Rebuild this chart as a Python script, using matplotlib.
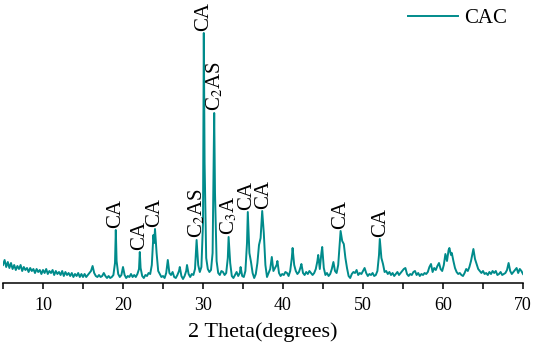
import numpy as np
import matplotlib
matplotlib.use("Agg")
import matplotlib.pyplot as plt
from matplotlib.ticker import MultipleLocator

plt.rcParams['font.family'] = ['Liberation Serif', 'DejaVu Serif']
plt.rcParams['mathtext.fontset'] = 'stix'

# XRD pattern (intensity in arbitrary units)
two_theta = [
    5.0, 5.2, 5.4, 5.6, 5.8, 6.0, 6.2, 6.4, 6.6, 6.8, 7.0, 7.2, 7.4, 7.6, 7.8,
    8.0, 8.2, 8.4, 8.6, 8.8, 9.0, 9.2, 9.4, 9.6, 9.8, 10.0, 10.2, 10.4, 10.6, 10.8,
    11.0, 11.2, 11.4, 11.6, 11.8, 12.0, 12.2, 12.4, 12.6, 12.8, 13.0, 13.2, 13.4, 13.6, 13.8,
    14.0, 14.2, 14.4, 14.6, 14.8, 15.0, 15.2, 15.4, 15.6, 15.8,
    16.0, 16.2, 16.4, 16.6, 16.8, 17.0, 17.2, 17.4, 17.6, 17.8, 18.0, 18.2, 18.4, 18.6, 18.8,
    19.0, 19.1, 19.2, 19.4, 19.6, 19.8, 20.0, 20.2, 20.4, 20.6, 20.8, 21.0, 21.2, 21.4, 21.6, 21.8,
    22.0, 22.1, 22.2, 22.4, 22.6, 22.8, 23.0, 23.2, 23.4, 23.6, 23.8, 23.9, 24.0, 24.2, 24.4, 24.6, 24.8,
    25.0, 25.2, 25.4, 25.6, 25.8, 26.0, 26.2, 26.4, 26.6, 26.8, 27.0, 27.1, 27.3, 27.5, 27.7, 27.9,
    28.0, 28.2, 28.4, 28.6, 28.8, 29.0, 29.2, 29.4, 29.6, 29.8, 30.0, 30.1, 30.2, 30.4, 30.6, 30.8,
    31.0, 31.2, 31.4, 31.5, 31.7, 31.9, 32.1, 32.3, 32.5, 32.7, 32.9, 33.1, 33.2, 33.4, 33.6, 33.8,
    34.0, 34.2, 34.4, 34.6, 34.7, 34.9, 35.1, 35.3, 35.5, 35.6, 35.8, 36.0, 36.2, 36.4, 36.6, 36.8,
    37.0, 37.2, 37.4, 37.6, 37.8, 38.0, 38.2, 38.4, 38.6, 38.8, 39.0, 39.2, 39.3, 39.5, 39.7, 39.9,
    40.1, 40.3, 40.5, 40.7, 40.9, 41.1, 41.2, 41.4, 41.6, 41.8, 42.0, 42.2, 42.3, 42.5, 42.7, 42.9,
    43.1, 43.3, 43.5, 43.7, 43.9, 44.1, 44.3, 44.4, 44.6, 44.8, 44.9, 45.1, 45.3, 45.5, 45.7, 45.9,
    46.1, 46.3, 46.5, 46.7, 46.9, 47.1, 47.2, 47.4, 47.6, 47.8, 48.0, 48.2, 48.4, 48.6, 48.8,
    49.0, 49.2, 49.4, 49.6, 49.8, 50.0, 50.2, 50.4, 50.6, 50.8, 51.0, 51.2, 51.4, 51.6, 51.8,
    52.0, 52.1, 52.3, 52.5, 52.7, 52.9, 53.1, 53.3, 53.5, 53.7, 53.9, 54.1, 54.3, 54.5, 54.7, 54.9,
    55.1, 55.3, 55.5, 55.7, 55.9, 56.1, 56.3, 56.5, 56.7, 56.9, 57.1, 57.3, 57.5, 57.7, 57.9,
    58.1, 58.3, 58.5, 58.7, 58.9, 59.1, 59.3, 59.5, 59.7, 59.9, 60.1, 60.3, 60.5, 60.7, 60.8,
    61.0, 61.1, 61.3, 61.5, 61.7, 61.9, 62.1, 62.3, 62.5, 62.7, 62.9, 63.1, 63.3, 63.5, 63.7, 63.8,
    64.0, 64.2, 64.4, 64.6, 64.8, 65.0, 65.2, 65.4, 65.6, 65.8, 66.0, 66.2, 66.4, 66.6, 66.8,
    67.0, 67.2, 67.4, 67.6, 67.8, 68.0, 68.2, 68.4, 68.6, 68.8, 69.0, 69.2, 69.4, 69.6, 69.8, 70.0,
]
intensity = [
    18, 23, 16, 21, 15, 20, 14, 18, 13, 17, 14, 18, 12, 16, 13,
    15, 11, 15, 12, 14, 10, 14, 11, 13, 9, 13, 10, 14, 9, 12,
    10, 13, 8, 12, 9, 11, 8, 12, 7, 11, 8, 10, 7, 10, 6,
    9, 7, 10, 6, 9, 6, 9, 6, 8, 10,
    12, 17, 10, 7, 6, 8, 6, 7, 10, 7, 5, 7, 5, 6, 8,
    20, 53, 22, 9, 6, 8, 16, 8, 5, 7, 6, 9, 6, 8, 6, 9,
    14, 31, 15, 7, 5, 8, 7, 10, 9, 18, 48, 40, 54, 30, 12, 9, 6,
    7, 5, 10, 23, 10, 8, 11, 6, 5, 8, 12, 16, 7, 4, 7, 12,
    18, 9, 6, 9, 8, 14, 43, 18, 11, 16, 60, 250, 120, 25, 14, 11,
    13, 30, 170, 90, 22, 10, 8, 12, 11, 8, 10, 25, 46, 20, 7, 5,
    8, 11, 7, 10, 16, 7, 6, 12, 40, 71, 30, 21, 10, 5, 9, 20,
    38, 45, 72, 50, 18, 6, 10, 14, 26, 12, 15, 18, 22, 10, 7, 9,
    8, 11, 10, 7, 12, 25, 35, 18, 12, 9, 11, 16, 19, 10, 8, 11,
    9, 12, 10, 8, 10, 14, 22, 28, 14, 30, 36, 15, 8, 10, 7, 9,
    14, 21, 12, 10, 18, 40, 52, 42, 39, 25, 15, 7, 5, 9, 11,
    10, 13, 8, 10, 9, 12, 15, 10, 7, 9, 8, 10, 7, 8, 12,
    28, 44, 25, 19, 11, 12, 9, 11, 8, 10, 7, 9, 11, 8, 10, 12,
    14, 15, 9, 7, 9, 8, 11, 12, 8, 10, 7, 9, 8, 10, 9,
    11, 16, 19, 11, 15, 13, 17, 20, 14, 12, 18, 29, 22, 33, 35,
    28, 30, 22, 15, 11, 9, 10, 8, 7, 10, 14, 12, 16, 22, 30, 34,
    24, 19, 14, 12, 10, 12, 9, 10, 8, 11, 9, 12, 10, 12, 8,
    9, 11, 8, 9, 10, 13, 20, 12, 9, 11, 13, 15, 10, 14, 12, 9,
]

# phase labels: position, peak height, text
label_x = [19.1, 22.1, 24.0, 29.2, 30.1, 31.5, 33.2, 35.4, 37.6, 47.2, 52.2]
label_y = [53, 31, 54, 43, 250, 170, 46, 71, 72, 52, 44]
label_txt = ['CA', 'CA', 'CA', r'C$_2$AS', 'CA', r'C$_2$AS', r'C$_3$A',
             'CA', 'CA', 'CA', 'CA']

fig = plt.figure(figsize=(5.33, 3.58), dpi=100)
ax = fig.add_axes([3 / 533, 75 / 358, 520 / 533, 283 / 358])

ax.plot(two_theta, intensity, color='#008B8B', lw=1.4, label='CAC')

for x, y, t in zip(label_x, label_y, label_txt):
    ax.text(x, y + 2, t, rotation=90, ha='center', va='bottom', fontsize=15)

ax.set_xlim(5, 70)
ax.set_ylim(0, 283)
ax.xaxis.set_major_locator(MultipleLocator(10))
ax.xaxis.set_minor_locator(MultipleLocator(5))
ax.tick_params(axis='x', which='both', direction='out', length=4, width=1.1,
               labelsize=13, pad=6)
ax.set_yticks([])
for s in ['left', 'right', 'top']:
    ax.spines[s].set_visible(False)
ax.spines['bottom'].set_linewidth(1.1)
ax.patch.set_alpha(0)

ax.set_xlabel('2 Theta(degrees)', fontsize=16, labelpad=6)

ax.legend(loc='upper right', bbox_to_anchor=(515 / 533, 1.0), frameon=False,
          fontsize=15, handlelength=2.4, handletextpad=0.3,
          bbox_transform=fig.transFigure, borderaxespad=0.0)

fig.savefig('out.png', dpi=100)
